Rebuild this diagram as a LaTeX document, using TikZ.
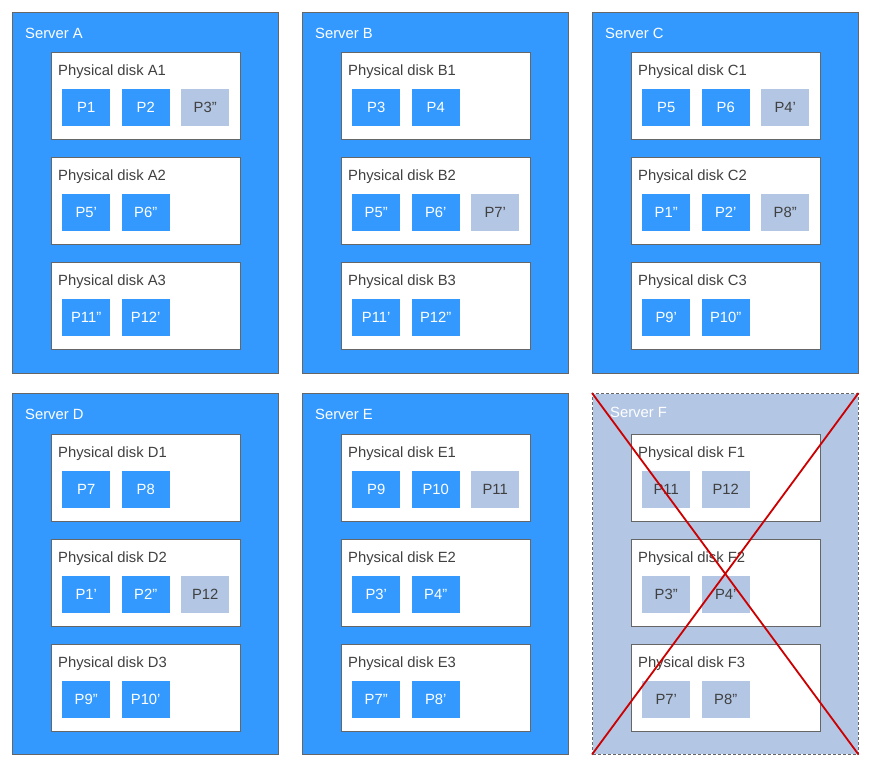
\documentclass[tikz,border=0pt]{standalone}
\usepackage{fontspec}
\setmainfont{Liberation Sans}
\definecolor{srvblue}{HTML}{3399FF}
\definecolor{pgray}{HTML}{B3C6E4}
\definecolor{edge}{HTML}{666666}
\definecolor{txt}{HTML}{404040}
\definecolor{xred}{HTML}{CC0000}
\tikzset{
  server/.style={draw=edge, line width=1pt, fill=srvblue, anchor=north west, minimum width=265.5pt, minimum height=360.5pt, inner sep=0pt},
  deadserver/.style={server, fill=pgray, dash pattern=on 3pt off 2pt},
  disk/.style={draw=edge, line width=1pt, fill=white, anchor=north west, minimum width=189pt, minimum height=87pt, inner sep=0pt},
  part/.style={fill=srvblue, text=white, anchor=north west, minimum width=48pt, minimum height=37pt, inner sep=0pt},
  gpart/.style={part, fill=pgray, text=txt},
  slabel/.style={anchor=base west, text=white, inner sep=0pt},
  dlabel/.style={anchor=base west, text=txt, inner sep=0pt},
  cross/.style={draw=xred, line width=1.8pt}
}
\newcommand{\mkdisk}[5]{%
  \node[disk] (#1) at (#2,#3) {};
  \node[dlabel] (#1-l) at (#2+7,#3+23.5) {#4};
  \foreach [count=\i] \s/\t in {#5} {\node[\s] (#1-p\i) at (#2+11+59.5*\i-59.5,#3+37) {\t};}
}
\begin{document}
\begin{tikzpicture}[x=1pt,y=-1pt,font=\fontsize{14.8}{17}\selectfont]
\useasboundingbox (0,0) rectangle (872,766);
% servers
\node[server] (A) at (12,12) {};
\node[server] (B) at (302,12) {};
\node[server] (C) at (592,12) {};
\node[server] (D) at (12,393) {};
\node[server] (E) at (302,393) {};
\node[deadserver] (F) at (592,393) {};
\node[slabel] (A-l) at (25,38.3) {Server A};
\node[slabel] (B-l) at (315,38.3) {Server B};
\node[slabel] (C-l) at (605,38.3) {Server C};
\node[slabel] (D-l) at (25,419.3) {Server D};
\node[slabel] (E-l) at (315,419.3) {Server E};
\node[slabel] (F-l) at (610,417.3) {Server F};
% disks
\mkdisk{A1}{51}{52}{Physical disk A1}{part/P1,part/P2,gpart/P3”}
\mkdisk{A2}{51}{157}{Physical disk A2}{part/P5’,part/P6”}
\mkdisk{A3}{51}{262}{Physical disk A3}{part/P11”,part/P12’}
\mkdisk{B1}{341}{52}{Physical disk B1}{part/P3,part/P4}
\mkdisk{B2}{341}{157}{Physical disk B2}{part/P5”,part/P6’,gpart/P7’}
\mkdisk{B3}{341}{262}{Physical disk B3}{part/P11’,part/P12”}
\mkdisk{C1}{631}{52}{Physical disk C1}{part/P5,part/P6,gpart/P4’}
\mkdisk{C2}{631}{157}{Physical disk C2}{part/P1”,part/P2’,gpart/P8”}
\mkdisk{C3}{631}{262}{Physical disk C3}{part/P9’,part/P10”}
\mkdisk{D1}{51}{434}{Physical disk D1}{part/P7,part/P8}
\mkdisk{D2}{51}{539}{Physical disk D2}{part/P1’,part/P2”,gpart/P12}
\mkdisk{D3}{51}{644}{Physical disk D3}{part/P9”,part/P10’}
\mkdisk{E1}{341}{434}{Physical disk E1}{part/P9,part/P10,gpart/P11}
\mkdisk{E2}{341}{539}{Physical disk E2}{part/P3’,part/P4”}
\mkdisk{E3}{341}{644}{Physical disk E3}{part/P7”,part/P8’}
\mkdisk{F1}{631}{434}{Physical disk F1}{gpart/P11,gpart/P12}
\mkdisk{F2}{631}{539}{Physical disk F2}{gpart/P3”,gpart/P4’}
\mkdisk{F3}{631}{644}{Physical disk F3}{gpart/P7’,gpart/P8”}
% cross over failed server
\draw[cross] (F.north west) -- (F.south east);
\draw[cross] (F.north east) -- (F.south west);
\end{tikzpicture}
\end{document}
